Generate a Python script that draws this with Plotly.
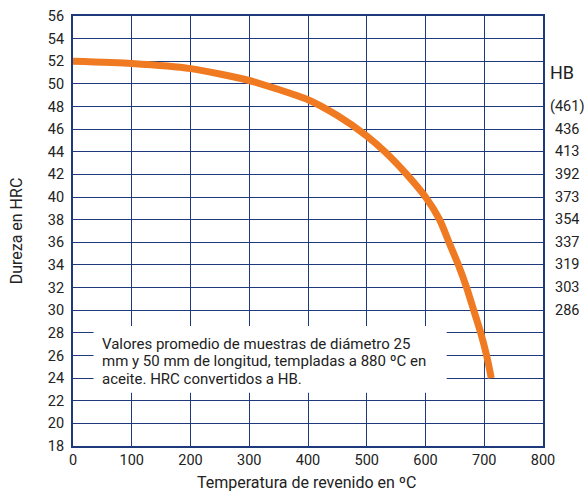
import plotly.graph_objects as go

# Data
temp_c = [0, 100, 200, 300, 400, 450, 500, 531, 568, 600, 624, 640, 656, 670, 682, 694, 704, 712]
hrc = [52.0, 51.8, 51.35, 50.3, 48.6, 47.2, 45.4, 44.0, 42.0, 40.0, 38.0, 36.0, 34.0, 32.0, 30.0, 28.0, 26.0, 24.0]

hb_hrc = [48, 46, 44, 42, 40, 38, 36, 34, 32, 30]
hb_labels = ["(461)", "436", "413", "392", "373", "354", "337", "319", "303", "286"]

x_ticks = [0, 100, 200, 300, 400, 500, 600, 700, 800]
y_ticks = list(range(18, 57, 2))

note_lines = [
    "Valores promedio de muestras de diámetro 25",
    "mm y 50 mm de longitud, templadas a 880 ºC en",
    "aceite. HRC convertidos a HB.",
]

FONT = "Roboto, Arial, sans-serif"
GRID = "#1f3a7a"
TXT = "#222222"
ORANGE = "#f07a22"

fig = go.Figure()
fig.add_trace(go.Scatter(
    x=temp_c, y=hrc, mode="lines",
    line=dict(color=ORANGE, width=7, shape="spline", smoothing=0.6),
    hoverinfo="skip", showlegend=False,
))

# white note box
fig.add_shape(type="rect", xref="x", yref="y", x0=35, x1=636, y0=22.7, y1=28.6,
              fillcolor="white", line=dict(width=0), layer="between")

for i, t in enumerate(note_lines):
    fig.add_annotation(x=46, y=27.0 - i * 1.53, xref="x", yref="y", text=t,
                       showarrow=False, xanchor="left", yanchor="middle",
                       font=dict(family=FONT, size=15, color=TXT))

# HB column
fig.add_annotation(x=1.040, y=51.0, xref="paper", yref="y", text="HB", showarrow=False,
                   xanchor="center", yanchor="middle",
                   font=dict(family=FONT, size=18, color=TXT))
for h, lab in zip(hb_hrc, hb_labels):
    fig.add_annotation(x=1.050, y=h, xref="paper", yref="y", text=lab, showarrow=False,
                       xanchor="center", yanchor="middle",
                       font=dict(family=FONT, size=14.5, color=TXT))

# axis titles
fig.add_annotation(x=0.498, y=-0.0845, xref="paper", yref="paper",
                   text="Temperatura de revenido en ºC", showarrow=False,
                   xanchor="center", yanchor="middle",
                   font=dict(family=FONT, size=16, color=TXT))
fig.add_annotation(x=-0.1205, y=0.5, xref="paper", yref="paper",
                   text="Dureza en HRC", showarrow=False, textangle=-90,
                   xanchor="center", yanchor="middle",
                   font=dict(family=FONT, size=16, color=TXT))

fig.update_xaxes(range=[0, 800], tickvals=x_ticks, showgrid=True, gridcolor=GRID, gridwidth=1.4,
                 showline=True, linecolor=GRID, linewidth=2, mirror=True, zeroline=False,
                 ticks="", tickfont=dict(family=FONT, size=14.5, color=TXT), automargin=False)
fig.update_yaxes(range=[18, 56], tickvals=y_ticks, showgrid=True, gridcolor=GRID, gridwidth=1.4,
                 showline=True, linecolor=GRID, linewidth=2, mirror=True, zeroline=False,
                 ticks="", ticklabelstandoff=4,
                 tickfont=dict(family=FONT, size=14.5, color=TXT), automargin=False)

fig.update_layout(width=585, height=493, margin=dict(l=73, r=42, t=16, b=47),
                  paper_bgcolor="white", plot_bgcolor="white")

# remove the default 8px page margin so the figure fills the window exactly
fig.write_html("out.html", config={"displayModeBar": False},
               post_script="document.body.style.margin='0';document.body.style.overflow='hidden';")
